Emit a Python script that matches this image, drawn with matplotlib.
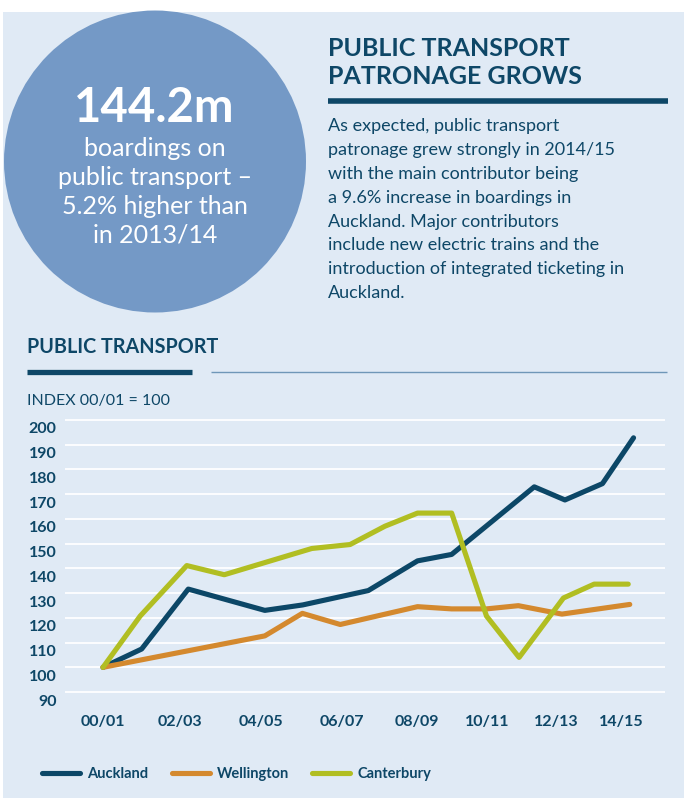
#!/usr/bin/env python3

import matplotlib
matplotlib.use('Agg')
import matplotlib.pyplot as plt
import matplotlib.transforms as mtransforms
from matplotlib.patches import Rectangle, Circle

plt.rcParams['font.family'] = ['Lato', 'DejaVu Sans']

# index values (x in years since 00/01)
x_auckland = [0, 1.02, 2.25, 4.27, 5.27, 7.0, 8.3, 9.2, 11.38, 12.19, 13.18, 14.0]
auckland = [100, 107.4, 131.6, 123, 125.2, 131, 143, 145.6, 172.9, 167.6, 174.2, 192.7]

x_wellington = [0, 4.27, 5.26, 6.26, 8.3, 9.2, 10.12, 10.96, 12.11, 13.9]
wellington = [100, 112.7, 121.8, 117.3, 124.5, 123.6, 123.6, 124.9, 121.5, 125.4]

x_canterbury = [0, 0.98, 2.21, 3.2, 5.51, 6.52, 7.44, 8.3, 9.2, 10.12, 10.98, 12.15, 12.96, 13.86]
canterbury = [100, 120.7, 141.1, 137.4, 148, 149.6, 157, 162.3, 162.3, 120.7, 104, 128, 133.6, 133.6]

x_ticks = [0, 2.04, 4.18, 6.31, 8.28, 10.13, 11.95, 13.67]
x_labels = ['00/01', '02/03', '04/05', '06/07', '08/09', '10/11', '12/13', '14/15']
y_ticks = list(range(90, 201, 10))

series = [
    ('Auckland', x_auckland, auckland, '#0c4767'),
    ('Wellington', x_wellington, wellington, '#d4892e'),
    ('Canterbury', x_canterbury, canterbury, '#b1be22'),
]

navy = '#0e4767'
panel = '#e0eaf5'
W, H = 684, 798

body_lines = [
    'As expected, public transport',
    'patronage grew strongly in 2014/15',
    'with the main contributor being',
    'a 9.6% increase in boardings in',
    'Auckland. Major contributors',
    'include new electric trains and the',
    'introduction of integrated ticketing in',
    'Auckland.',
]
circle_lines = ['boardings on', 'public transport \u2013', '5.2% higher than', 'in 2013/14']


def main():
    fig = plt.figure(figsize=(W / 100, H / 100), dpi=100, facecolor='white')

    # background layer in pixel coordinates
    bg = fig.add_axes([0, 0, 1, 1])
    bg.set_xlim(0, W)
    bg.set_ylim(H, 0)
    bg.axis('off')
    bg.add_patch(Rectangle((3, 12), W - 3, H - 12, color=panel, lw=0))
    bg.add_patch(Circle((155, 161.5), 151, color='#7499c6', lw=0))

    bg.text(154, 122, '144.2m', color='white', fontsize=34, fontweight='bold',
            ha='center', va='baseline')
    for i, line in enumerate(circle_lines):
        bg.text(155, 156.5 + i * 28.7, line, color='white', fontsize=18,
                ha='center', va='baseline')

    bg.text(328, 56.5, 'PUBLIC TRANSPORT', color=navy, fontsize=18,
            fontweight='bold', va='baseline')
    bg.text(328, 83.5, 'PATRONAGE GROWS', color=navy, fontsize=18,
            fontweight='bold', va='baseline')
    bg.plot([328, 668], [100.5, 100.5], color=navy, lw=4, solid_capstyle='butt')
    for i, line in enumerate(body_lines):
        bg.text(328, 131.5 + i * 23.8, line, color=navy, fontsize=13, va='baseline')

    bg.text(27, 353, 'PUBLIC TRANSPORT', color=navy, fontsize=14.2,
            fontweight='bold', va='baseline')
    bg.plot([27, 192], [371.5, 371.5], color=navy, lw=3.8, solid_capstyle='butt')
    bg.plot([211, 667], [372, 372], color='#6f97b8', lw=1.0, solid_capstyle='butt')
    bg.text(27, 405, 'INDEX 00/01 = 100', color=navy, fontsize=11.5, va='baseline')

    # chart
    ax = fig.add_axes([65 / W, 1 - 700 / H, 600 / W, 295 / H])
    ax.set_facecolor('none')
    for name, xs, ys, col in series:
        ax.plot(xs, ys, color=col, lw=3.7, label=name,
                solid_capstyle='round', solid_joinstyle='round', zorder=3)
    for v in y_ticks:
        ax.axhline(v, color='white', lw=1.3, zorder=1)
    ax.set_xlim(-1.003, 14.83)
    ax.set_ylim(86.8, 200 + 15 / 2.518)
    for s in ax.spines.values():
        s.set_visible(False)
    ax.set_yticks(y_ticks)
    ax.set_xticks(x_ticks)
    ax.set_xticklabels(x_labels)
    ax.tick_params(length=0, labelcolor=navy, labelsize=11.5)
    ax.tick_params(axis='y', pad=6)
    ax.tick_params(axis='x', pad=11)
    for lab in ax.get_yticklabels() + ax.get_xticklabels():
        lab.set_fontweight('bold')
    shift = mtransforms.ScaledTranslation(0, -8 / 100, fig.dpi_scale_trans)
    for lab in ax.get_yticklabels():
        lab.set_transform(lab.get_transform() + shift)

    leg = fig.legend(loc='center left', bbox_to_anchor=(42 / W, 1 - 774 / H),
                     ncol=3, frameon=False, borderpad=0, borderaxespad=0,
                     handlelength=2.6, handletextpad=0.5, columnspacing=1.6,
                     prop={'weight': 'bold', 'size': 10.5})
    for t in leg.get_texts():
        t.set_color(navy)

    fig.savefig('out.png', dpi=100)


if __name__ == '__main__':
    main()
